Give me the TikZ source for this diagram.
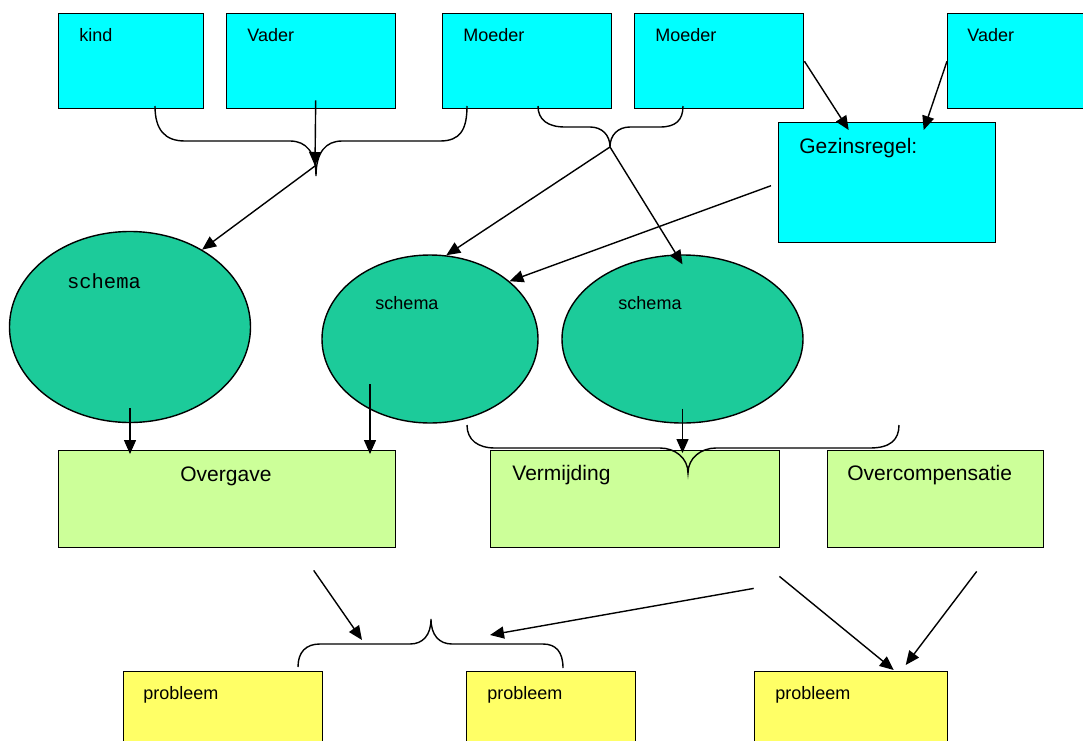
\documentclass[tikz,border=0pt]{standalone}
\usepackage{fontspec}
\setmainfont{Liberation Sans}
\setmonofont{Liberation Mono}
\usetikzlibrary{shapes.geometric, arrows.meta, calc}
\definecolor{ouderblauw}{RGB}{0,255,255}
\definecolor{schemagroen}{RGB}{28,203,154}
\definecolor{copinggroen}{RGB}{204,255,153}
\definecolor{probleemgeel}{RGB}{255,255,102}
\tikzset{%
  box/.style={draw, line width=0.7pt, rectangle, anchor=north west,
    inner sep=0pt},
  ouder/.style={box, fill=ouderblauw, minimum width=84.5pt,
    minimum height=47.5pt},
  coping/.style={box, fill=copinggroen, minimum height=48.5pt},
  probleem/.style={box, fill=probleemgeel, minimum height=47.5pt},
  schemabol/.style={draw, line width=0.7pt, ellipse, fill=schemagroen,
    inner sep=0pt, minimum height=84pt},
  txt/.style={anchor=base west, inner sep=0pt,
    font=\fontsize{9}{11}\selectfont},
  groottxt/.style={txt, font=\fontsize{10.5}{12}\selectfont},
  accolade/.style={draw, line width=0.7pt},
  every edge/.style={   
    draw,
    ->,
    >={Triangle[length=7pt,width=6pt]},
    line width=0.7pt} %
}

\begin{document}
\begin{tikzpicture}[x=0.5pt, y=-0.5pt]
    \useasboundingbox (0,0) rectangle (1083,740);

    % bovenste rij
    \node[ouder, minimum width=72.5pt,
      label={[txt, xshift=10.5pt, yshift=-14pt]north west:kind}] (kind) at (58,13) {};
    \node[ouder, label={[txt, xshift=10.5pt, yshift=-14pt]north west:Vader}] (vader) at (226,13) {};
    \node[ouder, label={[txt, xshift=10.5pt, yshift=-14pt]north west:Moeder}] (moeder) at (442,13) {};
    \node[ouder, label={[txt, xshift=10.5pt, yshift=-14pt]north west:Moeder}] (moeder2) at (634,13) {};
    \node[ouder, label={[txt, xshift=10pt, yshift=-14pt]north west:Vader}] (vader2) at (947,13) {};
    \node[ouder, minimum width=108.5pt, minimum height=60pt,
      label={[groottxt, xshift=10.5pt, yshift=-15.5pt]north west:Gezinsregel:}] (gezins) at (778,122) {};

    % schema's
    \node[schemabol, minimum width=120.5pt, minimum height=95.5pt,
      label={[txt, font=\ttfamily\fontsize{10.25}{12}\selectfont,
        xshift=-13pt, yshift=23pt]center:schema}] (schema1) at (130,327) {};
    \node[schemabol, minimum width=108pt,
      label={[txt, xshift=-11.5pt, yshift=18pt]center:schema}] (schema2) at (430,339) {};
    \node[schemabol, minimum width=120.5pt,
      label={[txt, xshift=-16.25pt, yshift=18pt]center:schema}] (schema3) at (682.5,339) {};

    % copingstijlen
    \node[coping, minimum width=168.5pt,
      label={[groottxt, xshift=61pt, yshift=-15.5pt]north west:Overgave}] (overgave) at (58,450) {};
    \node[coping, minimum width=144.5pt,
      label={[groottxt, xshift=11pt, yshift=-15pt]north west:Vermijding}] (vermijding) at (490,450) {};
    \node[coping, minimum width=108pt,
      label={[groottxt, xshift=10pt, yshift=-15pt]north west:Overcompensatie}] (overcomp) at (827,450) {};

    % problemen
    \node[probleem, minimum width=99.5pt,
      label={[txt, xshift=10pt, yshift=-14pt]north west:probleem}] (probleem1) at (123,671) {};
    \node[probleem, minimum width=84.5pt,
      label={[txt, xshift=10.5pt, yshift=-14pt]north west:probleem}] (probleem2) at (466,671) {};
    \node[probleem, minimum width=96.5pt,
      label={[txt, xshift=10.5pt, yshift=-14pt]north west:probleem}] (probleem3) at (754,671) {};

    % accolades
    \draw[accolade] (155,106) .. controls (155,130) and (165,141) .. (185,141) -- (290,141)
      .. controls (306,141) and (316,152) .. (316,176)
      .. controls (316,152) and (326,141) .. (342,141) -- (440,141)
      .. controls (460,141) and (467,130) .. (467,106);
    \draw[accolade] (538,106) .. controls (538,120) and (548,127) .. (565,127) -- (590,127)
      .. controls (602,127) and (610,135) .. (610,147)
      .. controls (610,135) and (618,127) .. (630,127) -- (660,127)
      .. controls (676,127) and (683,120) .. (683,106);
    \draw[accolade] (467,425) .. controls (467,440) and (478,448) .. (495,448) -- (660,448)
      .. controls (675,448) and (688,458) .. (688,473)
      .. controls (688,458) and (701,448) .. (716,448) -- (870,448)
      .. controls (890,448) and (899,440) .. (899,425);
    \draw[accolade] (298,667) .. controls (298,652) and (306,644) .. (320,644) -- (410,644)
      .. controls (423,644) and (431,635) .. (431,619)
      .. controls (431,635) and (439,644) .. (452,644) -- (543,644)
      .. controls (556,644) and (563,652) .. (563,668);

    \coordinate (t1) at (315,166);
    \coordinate (t2) at (610,147);
    \coordinate (s2uit) at ($(schema2)+(-60,45)$);
    \coordinate (b4l) at (362,640);
    \coordinate (b4r) at (490,635);

    \draw
      ($(vader.south)+(4.5,-9)$) edge (t1)
      (t1) edge (schema1.47)
      (t2) edge (schema2.79)
      (t2) edge ($(schema3.north)+(0,10)$)
      ($(gezins.west)+(-7,3)$) edge (schema2.36)
      (moeder2.east) edge ($(gezins.north)+(-38.5,8)$)
      (vader2.west) edge ($(gezins.north)+(36.5,8)$)
      ($(schema1.south)+(0,-15)$) edge ($(overgave.north -| schema1)+(0,4)$)
      (s2uit) edge ($(overgave.north -| s2uit)+(0,4)$)
      ($(schema3.south)+(0,-15)$) edge ($(vermijding.north -| schema3)+(0,3)$)
      ($(overgave.south)+(86.5,22)$) edge (b4l)
      ($(vermijding.south)+(118.5,40)$) edge (b4r)
      ($(vermijding.south east)+(-1,28)$) edge ($(probleem3.north)+(42.5,-1)$)
      ($(overcomp.south)+(41,23)$) edge ($(probleem3.north)+(54.5,-6)$)
    ;

\end{tikzpicture}
\end{document}
